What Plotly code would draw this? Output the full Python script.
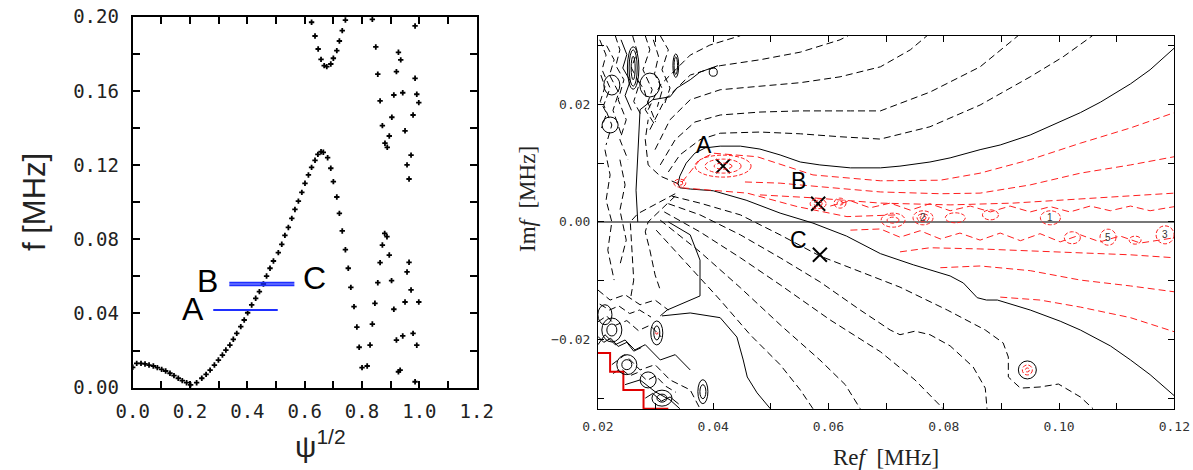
import plotly.graph_objects as go

# ================= LEFT PANEL DATA (psi^1/2 , f [MHz]) =================
psi_main = [0.000, 0.014, 0.029, 0.043, 0.057, 0.072, 0.086, 0.101, 0.115, 0.130, 0.144, 0.159, 0.173, 0.188, 0.202,
            0.223, 0.241, 0.256, 0.270, 0.285, 0.299, 0.313, 0.325, 0.339, 0.351, 0.363, 0.377, 0.389, 0.401, 0.415,
            0.429, 0.442, 0.456, 0.467, 0.479, 0.491, 0.508, 0.520, 0.531, 0.543, 0.555, 0.566, 0.578, 0.590, 0.601,
            0.613, 0.624, 0.636, 0.646, 0.657, 0.665, 0.680, 0.691, 0.700, 0.712, 0.721, 0.731, 0.742, 0.752, 0.761,
            0.772, 0.782, 0.790, 0.800]
f_main = [0.0110, 0.0131, 0.0131, 0.0128, 0.0122, 0.0117, 0.0108, 0.0099, 0.0090, 0.0078, 0.0065, 0.0051, 0.0038, 0.0027, 0.0015,
          0.0027, 0.0051, 0.0072, 0.0095, 0.0122, 0.0149, 0.0176, 0.0203, 0.0230, 0.0261, 0.0293, 0.0329, 0.0365, 0.0404, 0.0446,
          0.0482, 0.0518, 0.0559, 0.0602, 0.0644, 0.0683, 0.0728, 0.0773, 0.0821, 0.0864, 0.0913, 0.0961, 0.1006, 0.1053, 0.1102,
          0.1147, 0.1188, 0.1226, 0.1258, 0.1272, 0.1269, 0.1240, 0.1183, 0.1111, 0.1028, 0.0940, 0.0845, 0.0744, 0.0644, 0.0541,
          0.0437, 0.0327, 0.0218, 0.0108]
psi_upper = [0.624, 0.636, 0.647, 0.657, 0.668, 0.677, 0.691, 0.700, 0.712, 0.721, 0.731, 0.742]
f_upper = [0.1970, 0.1896, 0.1826, 0.1770, 0.1736, 0.1731, 0.1745, 0.1776, 0.1817, 0.1869, 0.1925, 0.1982]
psi_hi = [0.836, 0.848, 0.855, 0.863, 0.871, 0.880, 0.888, 0.895, 0.904, 0.911, 0.920, 0.927, 0.935, 0.942,
          0.950, 0.957, 0.964, 0.971, 0.978, 0.985, 0.991, 0.998, 0.985]
f_hi = [0.1986, 0.1837, 0.1690, 0.1546, 0.1413, 0.1318, 0.1296, 0.1357, 0.1458, 0.1578, 0.1704, 0.1808, 0.1767, 0.1590,
        0.1385, 0.1201, 0.1125, 0.1254, 0.1470, 0.1668, 0.1582, 0.1537, 0.1950]
psi_lo = [0.818, 0.828, 0.836, 0.845, 0.855, 0.863, 0.871, 0.879, 0.887, 0.895, 0.903, 0.911, 0.920, 0.927,
          0.933, 0.942, 0.950, 0.957, 0.964, 0.971, 0.978, 0.985, 0.991, 0.998]
f_lo = [0.0117, 0.0230, 0.0343, 0.0455, 0.0566, 0.0674, 0.0769, 0.0832, 0.0814, 0.0715, 0.0577, 0.0423, 0.0257, 0.0086,
        0.0095, 0.0279, 0.0462, 0.0624, 0.0676, 0.0527, 0.0293, 0.0032, 0.0229, 0.0462]

cut_names = ["A", "B", "C"]
cut_f = [0.0419, 0.0566, 0.0552]
cut_psi_start = [0.281, 0.337, 0.337]
cut_psi_end = [0.506, 0.564, 0.564]
cut_label_psi = [0.209, 0.260, 0.634]
cut_label_f = [0.0424, 0.0575, 0.0593]

# ================= RIGHT PANEL DATA (Re f , Im f) =================
mode_names = ["A", "B", "C"]
mode_re = [0.0417, 0.0582, 0.0585]
mode_im = [0.0095, 0.0031, -0.0056]
mode_label_re = [0.0384, 0.0548, 0.0548]
mode_label_im = [0.0131, 0.0069, -0.0031]

# zero contour (solid black)
s_main_x = [0.1200, 0.1158, 0.1124, 0.1072, 0.1037, 0.0985, 0.0950, 0.0898, 0.0863, 0.0811, 0.0776, 0.0724, 0.0690, 0.0638,
            0.0585, 0.0551, 0.0516, 0.0481, 0.0447, 0.0412, 0.0386, 0.0368, 0.0353, 0.0342, 0.0339, 0.0342, 0.0360, 0.0400,
            0.0457, 0.0516, 0.0573, 0.0631, 0.0690, 0.0747, 0.0811, 0.0834, 0.0846, 0.0858, 0.0874, 0.0893, 0.0950, 0.1002,
            0.1037, 0.1089, 0.1124, 0.1158, 0.1200]
s_main_y = [0.0296, 0.0259, 0.0235, 0.0204, 0.0186, 0.0163, 0.0148, 0.0131, 0.0123, 0.0109, 0.0102, 0.0095, 0.0092, 0.0092,
            0.0097, 0.0102, 0.0114, 0.0124, 0.0129, 0.0129, 0.0126, 0.0117, 0.0100, 0.0078, 0.0065, 0.0058, 0.0056, 0.0053,
            0.0037, 0.0015, -0.0002, -0.0024, -0.0054, -0.0073, -0.0092, -0.0104, -0.0117, -0.0129, -0.0133, -0.0133,
            -0.0150, -0.0169, -0.0184, -0.0211, -0.0235, -0.0260, -0.0296]
s2_x = [0.0408, 0.0377, 0.0360, 0.0337, 0.0325, 0.0295, 0.0273, 0.0269, 0.0266, 0.0269]
s2_y = [0.0266, 0.0255, 0.0242, 0.0228, 0.0213, 0.0208, 0.0191, 0.0123, 0.0054, 0.0000]
s3_x = [0.0322, 0.0360, 0.0377, 0.0377, 0.0320, 0.0308]
s3_y = [0.0000, -0.0022, -0.0065, -0.0126, -0.0150, -0.0160]
s4_x = [0.0311, 0.0360, 0.0412, 0.0441, 0.0452, 0.0459, 0.0476, 0.0499]
s4_y = [-0.0160, -0.0155, -0.0163, -0.0196, -0.0235, -0.0264, -0.0291, -0.0318]

# negative levels (black dashed) above the zero contour
l1_x = [0.0322, 0.0342, 0.0377, 0.0412, 0.0481, 0.0551, 0.0620, 0.0690, 0.0776, 0.0863, 0.0950, 0.1007, 0.1058]
l1_y = [0.0085, 0.0114, 0.0140, 0.0151, 0.0153, 0.0150, 0.0145, 0.0141, 0.0162, 0.0199, 0.0247, 0.0281, 0.0317]
l2_x = [0.0308, 0.0334, 0.0368, 0.0412, 0.0481, 0.0551, 0.0638, 0.0690, 0.0776, 0.0863, 0.0929]
l2_y = [0.0097, 0.0140, 0.0170, 0.0182, 0.0187, 0.0189, 0.0189, 0.0189, 0.0221, 0.0264, 0.0317]
l3_x = [0.0299, 0.0325, 0.0360, 0.0412, 0.0481, 0.0551, 0.0620, 0.0690, 0.0742, 0.0771]
l3_y = [0.0123, 0.0174, 0.0208, 0.0225, 0.0231, 0.0237, 0.0247, 0.0264, 0.0293, 0.0317]
l4_x = [0.0290, 0.0316, 0.0360, 0.0412, 0.0481, 0.0551, 0.0620, 0.0634]
l4_y = [0.0157, 0.0208, 0.0250, 0.0266, 0.0276, 0.0289, 0.0310, 0.0317]
l5_x = [0.0287, 0.0308, 0.0360, 0.0394, 0.0447]
l5_y = [0.0191, 0.0233, 0.0284, 0.0301, 0.0317]

# negative levels (black dashed) below the zero contour
d1_x = [0.0328, 0.0377, 0.0447, 0.0516, 0.0585, 0.0655, 0.0724, 0.0806, 0.0872, 0.0903, 0.0912, 0.0912, 0.0933, 0.0967,
        0.0999, 0.1037, 0.1059]
d1_y = [0.0044, 0.0032, 0.0012, -0.0022, -0.0058, -0.0085, -0.0111, -0.0150, -0.0184, -0.0206, -0.0230, -0.0264,
        -0.0283, -0.0281, -0.0276, -0.0298, -0.0318]
d2_x = [0.0322, 0.0377, 0.0447, 0.0516, 0.0585, 0.0655, 0.0707, 0.0724, 0.0750, 0.0776, 0.0811, 0.0851, 0.0872, 0.0875]
d2_y = [0.0031, 0.0012, -0.0022, -0.0061, -0.0102, -0.0150, -0.0184, -0.0192, -0.0186, -0.0192, -0.0211, -0.0247,
        -0.0283, -0.0318]
d3_x = [0.0315, 0.0377, 0.0447, 0.0516, 0.0603, 0.0690, 0.0750, 0.0799]
d3_y = [0.0017, -0.0017, -0.0061, -0.0107, -0.0167, -0.0221, -0.0269, -0.0318]
d4_x = [0.0308, 0.0377, 0.0447, 0.0516, 0.0585, 0.0629, 0.0655]
d4_y = [0.0003, -0.0051, -0.0112, -0.0175, -0.0235, -0.0277, -0.0318]
d5_x = [0.0301, 0.0360, 0.0412, 0.0464, 0.0516, 0.0551, 0.0573]
d5_y = [-0.0014, -0.0078, -0.0133, -0.0192, -0.0243, -0.0286, -0.0318]

# dashed lines in the left (irregular) region
f1_x = [0.0339, 0.0308, 0.0287, 0.0282, 0.0287]
f1_y = [0.0065, 0.0078, 0.0097, 0.0140, 0.0174]
v1_x = [0.0334, 0.0299, 0.0269, 0.0256, 0.0259, 0.0262, 0.0256]
v1_y = [0.0048, 0.0029, 0.0014, 0.0000, -0.0048, -0.0099, -0.0133]
v2_x = [0.0334, 0.0308, 0.0287, 0.0282, 0.0290, 0.0299, 0.0308]
v2_y = [0.0044, 0.0020, 0.0000, -0.0017, -0.0048, -0.0090, -0.0116]
g1_x = [0.0212, 0.0221, 0.0214, 0.0224, 0.0217, 0.0228]
g1_y = [0.0123, 0.0080, 0.0037, 0.0000, -0.0048, -0.0099]
g2_x = [0.0238, 0.0247, 0.0238, 0.0249, 0.0238]
g2_y = [0.0106, 0.0063, 0.0020, -0.0031, -0.0073]
q1_x = [0.0203, 0.0214, 0.0207, 0.0221, 0.0210, 0.0224, 0.0214]
q1_y = [0.0310, 0.0284, 0.0259, 0.0228, 0.0199, 0.0165, 0.0131]
q2_x = [0.0230, 0.0238, 0.0231, 0.0245, 0.0235, 0.0249, 0.0238, 0.0252]
q2_y = [0.0317, 0.0293, 0.0266, 0.0242, 0.0208, 0.0174, 0.0140, 0.0106]
q3_x = [0.0282, 0.0290, 0.0278, 0.0294, 0.0282, 0.0299]
q3_y = [0.0317, 0.0293, 0.0259, 0.0225, 0.0191, 0.0165]
q4_x = [0.0308, 0.0322, 0.0311, 0.0325, 0.0315]
q4_y = [0.0317, 0.0293, 0.0259, 0.0228, 0.0199]
q5_x = [0.0215, 0.0228, 0.0220, 0.0236, 0.0226, 0.0240]
q5_y = [0.0300, 0.0276, 0.0250, 0.0220, 0.0190, 0.0150]
q6_x = [0.0260, 0.0268, 0.0258, 0.0272, 0.0262, 0.0276]
q6_y = [0.0317, 0.0290, 0.0262, 0.0236, 0.0205, 0.0180]
q7_x = [0.0296, 0.0305, 0.0298, 0.0312, 0.0303]
q7_y = [0.0310, 0.0282, 0.0252, 0.0226, 0.0196]
q8_x = [0.0205, 0.0212, 0.0204, 0.0215, 0.0206]
q8_y = [0.0250, 0.0230, 0.0205, 0.0185, 0.0160]
q9_x = [0.0240, 0.0250, 0.0243, 0.0256, 0.0247, 0.0258]
q9_y = [0.0310, 0.0285, 0.0262, 0.0240, 0.0215, 0.0190]
q10_x = [0.0270, 0.0280, 0.0286, 0.0292, 0.0300]
q10_y = [0.0240, 0.0225, 0.0205, 0.0190, 0.0170]
t1_x = [0.0200, 0.0221, 0.0247, 0.0273, 0.0299, 0.0322]
t1_y = [-0.0116, -0.0133, -0.0124, -0.0141, -0.0133, -0.0150]
t2_x = [0.0200, 0.0212, 0.0230, 0.0247, 0.0264, 0.0282, 0.0308, 0.0334, 0.0360]
t2_y = [-0.0209, -0.0192, -0.0209, -0.0201, -0.0218, -0.0209, -0.0235, -0.0226, -0.0252]
t3_x = [0.0224, 0.0247, 0.0273, 0.0299, 0.0325, 0.0360, 0.0377]
t3_y = [-0.0243, -0.0226, -0.0252, -0.0243, -0.0269, -0.0286, -0.0318]
t4_x = [0.0247, 0.0273, 0.0299, 0.0325, 0.0342]
t4_y = [-0.0277, -0.0269, -0.0289, -0.0303, -0.0318]
t5_x = [0.0200, 0.0215, 0.0230, 0.0250, 0.0270, 0.0290, 0.0310]
t5_y = [-0.0170, -0.0160, -0.0176, -0.0168, -0.0185, -0.0176, -0.0196]
t6_x = [0.0203, 0.0220, 0.0236, 0.0255, 0.0272, 0.0292]
t6_y = [-0.0140, -0.0150, -0.0143, -0.0156, -0.0150, -0.0162]
t7_x = [0.0200, 0.0210, 0.0222, 0.0235, 0.0250, 0.0262, 0.0275]
t7_y = [-0.0195, -0.0205, -0.0198, -0.0212, -0.0205, -0.0220, -0.0214]
t8_x = [0.0226, 0.0240, 0.0255, 0.0270, 0.0285, 0.0300, 0.0318, 0.0335]
t8_y = [-0.0258, -0.0250, -0.0262, -0.0256, -0.0270, -0.0262, -0.0280, -0.0290]
t9_x = [0.0282, 0.0295, 0.0310, 0.0325, 0.0340]
t9_y = [-0.0300, -0.0292, -0.0305, -0.0298, -0.0310]

# positive levels (red dashed)
ra_x = [0.0346, 0.0377, 0.0400, 0.0476, 0.0573, 0.0690, 0.0794, 0.0863, 0.0950, 0.1037, 0.1124, 0.1200]
ra_y = [0.0068, 0.0106, 0.0117, 0.0111, 0.0080, 0.0070, 0.0071, 0.0083, 0.0106, 0.0134, 0.0160, 0.0186]
rb_x = [0.0455, 0.0516, 0.0573, 0.0690, 0.0794, 0.0863, 0.0950, 0.1037, 0.1124, 0.1200]
rb_y = [0.0068, 0.0066, 0.0061, 0.0051, 0.0048, 0.0049, 0.0063, 0.0083, 0.0097, 0.0111]
rc_x = [0.0481, 0.0573, 0.0690, 0.0811, 0.0920, 0.1037, 0.1124, 0.1200]
rc_y = [0.0046, 0.0041, 0.0032, 0.0029, 0.0032, 0.0039, 0.0044, 0.0049]
w1_x = [0.0603, 0.0638, 0.0672, 0.0707, 0.0742, 0.0776, 0.0811, 0.0846, 0.0881, 0.0915, 0.0950, 0.0985, 0.1019,
        0.1054, 0.1089, 0.1124, 0.1158, 0.1200]
w1_y = [0.0027, 0.0036, 0.0024, 0.0032, 0.0020, 0.0031, 0.0019, 0.0027, 0.0017, 0.0027, 0.0017, 0.0026, 0.0017,
        0.0027, 0.0019, 0.0027, 0.0019, 0.0026]
rl_x = [0.0346, 0.0459, 0.0546, 0.0603, 0.0632, 0.0719]
rl_y = [0.0058, 0.0049, 0.0026, 0.0014, 0.0009, 0.0012]
w2_x = [0.0638, 0.0690, 0.0724, 0.0759, 0.0794, 0.0828, 0.0863, 0.0898, 0.0933, 0.0967, 0.1002, 0.1037, 0.1071,
        0.1106, 0.1141, 0.1200]
w2_y = [-0.0014, -0.0012, -0.0026, -0.0015, -0.0029, -0.0019, -0.0031, -0.0019, -0.0032, -0.0020, -0.0034, -0.0022,
        -0.0034, -0.0024, -0.0036, -0.0027]
rb1_x = [0.0724, 0.0776, 0.0863, 0.0950, 0.1037, 0.1124, 0.1200]
rb1_y = [-0.0051, -0.0044, -0.0046, -0.0049, -0.0053, -0.0056, -0.0061]
rb2_x = [0.0794, 0.0863, 0.0950, 0.1037, 0.1124, 0.1200]
rb2_y = [-0.0078, -0.0075, -0.0083, -0.0099, -0.0109, -0.0119]
rb3_x = [0.0898, 0.0967, 0.1037, 0.1124, 0.1200]
rb3_y = [-0.0128, -0.0133, -0.0145, -0.0163, -0.0187]

# red boundary of the computed domain (staircase)
stair_x = [0.0200, 0.0221, 0.0221, 0.0244, 0.0244, 0.0279, 0.0279, 0.0322]
stair_y = [-0.0223, -0.0223, -0.0255, -0.0255, -0.0286, -0.0286, -0.0318, -0.0318]

# small closed contours: centre re, centre im, half-width, half-height
red_loop_re = [0.0417, 0.0417, 0.0417, 0.0582, 0.0582, 0.0620, 0.0620, 0.0712, 0.0712, 0.0764, 0.0764, 0.0764,
               0.0820, 0.0881, 0.0985, 0.1023, 0.1085, 0.1132, 0.1184, 0.0945, 0.0945, 0.0342, 0.0342, 0.0302]
red_loop_im = [0.0095, 0.0095, 0.0095, 0.0031, 0.0031, 0.0032, 0.0032, 0.0003, 0.0003, 0.0007, 0.0007, 0.0007,
               0.0007, 0.0012, 0.0007, -0.0027, -0.0026, -0.0031, -0.0022, -0.0252, -0.0252, 0.0066, 0.0066, -0.0189]
red_loop_rw = [0.00486, 0.00313, 0.00156, 0.00139, 0.00070, 0.00104, 0.00052, 0.00208, 0.00104, 0.00174, 0.00104,
               0.00052, 0.00174, 0.00139, 0.00174, 0.00139, 0.00139, 0.00104, 0.00156, 0.00087, 0.00035, 0.00104,
               0.00052, 0.00020]
red_loop_rh = [0.00187, 0.00119, 0.00051, 0.00085, 0.00050, 0.00085, 0.00034, 0.00119, 0.00051, 0.00119, 0.00068,
               0.00034, 0.00085, 0.00085, 0.00119, 0.00102, 0.00136, 0.00068, 0.00153, 0.00085, 0.00034, 0.00068,
               0.00034, 0.00020]
blk_loop_re = [0.0224, 0.0224, 0.0250, 0.0250, 0.0287, 0.0311, 0.0311, 0.0212, 0.0302, 0.0302, 0.0382, 0.0382,
               0.0945, 0.0261, 0.0261, 0.0335, 0.0224, 0.0290, 0.0221, 0.0400, 0.0261, 0.0335]
blk_loop_im = [-0.0184, -0.0184, -0.0243, -0.0243, -0.0269, -0.0300, -0.0300, -0.0158, -0.0189, -0.0189, -0.0289,
               -0.0289, -0.0252, 0.0262, 0.0262, 0.0266, 0.0233, 0.0233, 0.0165, 0.0255, 0.0262, 0.0266]
blk_loop_rw = [0.00174, 0.00087, 0.00174, 0.00087, 0.00139, 0.00174, 0.00087, 0.00122, 0.00104, 0.00052, 0.00087,
               0.00052, 0.00156, 0.00070, 0.00035, 0.00050, 0.00139, 0.00174, 0.00139, 0.00070, 0.00100, 0.00030]
blk_loop_rh = [0.00204, 0.00102, 0.00170, 0.00085, 0.00136, 0.00136, 0.00068, 0.00170, 0.00204, 0.00119, 0.00204,
               0.00119, 0.00153, 0.00310, 0.00200, 0.00200, 0.00170, 0.00204, 0.00136, 0.00070, 0.00360, 0.00150]

level_tags = ["2", "1", "5", "3"]
level_tag_re = [0.0764, 0.0985, 0.1085, 0.1184]
level_tag_im = [0.0007, 0.0007, -0.0026, -0.0022]

# ================= FIGURE =================
fig = go.Figure()
BLACK = "#000000"
RED = "#ff1f1f"
DASH = "7px,4px"

for xs, ys in [(psi_main, f_main), (psi_upper, f_upper), (psi_hi, f_hi), (psi_lo, f_lo)]:
    fig.add_trace(go.Scatter(x=xs, y=ys, mode="markers", xaxis="x", yaxis="y",
                             marker=dict(symbol="cross", size=4.5, color="black", line=dict(width=0)),
                             showlegend=False, hoverinfo="skip"))

for i in range(3):
    fig.add_trace(go.Scatter(x=[cut_psi_start[i], cut_psi_end[i]], y=[cut_f[i], cut_f[i]], mode="lines",
                             xaxis="x", yaxis="y", line=dict(color="#1f2fff", width=2),
                             showlegend=False, hoverinfo="skip"))
    fig.add_annotation(x=cut_label_psi[i], y=cut_label_f[i], xref="x", yref="y", text=cut_names[i],
                       xanchor="center", yanchor="middle",
                       showarrow=False, font=dict(family="Liberation Sans, Arial", size=32, color="black"))


def add_line(xs, ys, color, dash, width=1.0):
    fig.add_trace(go.Scatter(x=xs, y=ys, mode="lines", xaxis="x2", yaxis="y2",
                             line=dict(color=color, width=width, dash=dash),
                             showlegend=False, hoverinfo="skip"))


for xs, ys in [(l1_x, l1_y), (l2_x, l2_y), (l3_x, l3_y), (l4_x, l4_y), (l5_x, l5_y),
               (d1_x, d1_y), (d2_x, d2_y), (d3_x, d3_y), (d4_x, d4_y), (d5_x, d5_y),
               (f1_x, f1_y), (v1_x, v1_y), (v2_x, v2_y), (g1_x, g1_y), (g2_x, g2_y),
               (q1_x, q1_y), (q2_x, q2_y), (q3_x, q3_y), (q4_x, q4_y), (q5_x, q5_y), (q6_x, q6_y),
               (q7_x, q7_y), (q8_x, q8_y), (q10_x, q10_y), (t1_x, t1_y), (t3_x, t3_y), (t5_x, t5_y),
               (t6_x, t6_y), (t8_x, t8_y)]:
    add_line(xs, ys, BLACK, DASH)
for xs, ys in [(s_main_x, s_main_y), (s2_x, s2_y), (s3_x, s3_y), (s4_x, s4_y), (t2_x, t2_y), (t4_x, t4_y),
               (q9_x, q9_y), (t7_x, t7_y), (t9_x, t9_y)]:
    add_line(xs, ys, BLACK, "solid")
for xs, ys in [(ra_x, ra_y), (rb_x, rb_y), (rc_x, rc_y), (w1_x, w1_y), (rl_x, rl_y), (w2_x, w2_y),
               (rb1_x, rb1_y), (rb2_x, rb2_y), (rb3_x, rb3_y)]:
    add_line(xs, ys, RED, DASH)
add_line(stair_x, stair_y, "#e00000", "solid", 2)

shapes = []
for cx, cy, rw, rh in zip(red_loop_re, red_loop_im, red_loop_rw, red_loop_rh):
    shapes.append(dict(type="circle", xref="x2", yref="y2", x0=cx - rw, x1=cx + rw, y0=cy - rh, y1=cy + rh,
                       line=dict(color=RED, width=1, dash="4px,2px")))
for cx, cy, rw, rh in zip(blk_loop_re, blk_loop_im, blk_loop_rw, blk_loop_rh):
    shapes.append(dict(type="circle", xref="x2", yref="y2", x0=cx - rw, x1=cx + rw, y0=cy - rh, y1=cy + rh,
                       line=dict(color=BLACK, width=1)))
fig.update_layout(shapes=shapes)

fig.add_trace(go.Scatter(x=mode_re, y=mode_im, mode="markers", xaxis="x2", yaxis="y2",
                         marker=dict(symbol="x-thin-open", size=14, color="black", line=dict(width=2, color="black")),
                         showlegend=False, hoverinfo="skip"))
for i in range(3):
    fig.add_annotation(x=mode_label_re[i], y=mode_label_im[i], xref="x2", yref="y2", text=mode_names[i],
                       xanchor="center", yanchor="middle",
                       showarrow=False, font=dict(family="Liberation Sans, Arial", size=23, color="black"))
for i in range(4):
    fig.add_annotation(x=level_tag_re[i], y=level_tag_im[i], xref="x2", yref="y2", text=level_tags[i],
                       xanchor="center", yanchor="middle",
                       showarrow=False, font=dict(family="Liberation Sans, Arial", size=10, color="#333"))

# axis titles (paper coordinates = whole figure, margins are zero)
fig.add_annotation(x=34 / 1193, y=1 - 202 / 470, xref="paper", yref="paper", text="f [MHz]", textangle=-90,
                   xanchor="center", yanchor="middle",
                   showarrow=False, font=dict(family="Liberation Sans, Arial", size=31, color="#222"))
fig.add_annotation(x=293 / 1193, y=1 - 444 / 470, xref="paper", yref="paper", text="ψ<sup>1/2</sup>",
                   xanchor="left", yanchor="middle",
                   showarrow=False, font=dict(family="Liberation Sans, Arial", size=30, color="#222"))
fig.add_annotation(x=886 / 1193, y=1 - 457 / 470, xref="paper", yref="paper", text="Re<i>f</i>  [MHz]",
                   xanchor="center", yanchor="middle",
                   showarrow=False, font=dict(family="Liberation Serif, Times New Roman", size=23, color="#222"))
fig.add_annotation(x=527 / 1193, y=1 - 199 / 470, xref="paper", yref="paper", text="Im<i>f</i>  [MHz]",
                   textangle=-90, showarrow=False, xanchor="center", yanchor="middle",
                   font=dict(family="Liberation Serif, Times New Roman", size=23, color="#222"))

left_tick_font = dict(family="DejaVu Sans Mono", size=19, color="#222")
right_tick_font = dict(family="DejaVu Sans Mono", size=13, color="#333")

fig.update_layout(
    width=1193, height=470, margin=dict(l=0, r=0, t=0, b=0, autoexpand=False),
    paper_bgcolor="white", plot_bgcolor="white", showlegend=False,
    xaxis=dict(domain=[0.11123, 0.39958], range=[0, 1.2], dtick=0.2, tick0=0, tickformat=".1f",
               automargin=False,
               showgrid=False, zeroline=False, showline=True, linecolor="black", linewidth=2, mirror="ticks",
               ticks="inside", ticklen=7, tickwidth=1.5, tickcolor="black", tickfont=left_tick_font,
               ticklabelstandoff=6,
               minor=dict(dtick=0.1, ticks="inside", ticklen=7, tickwidth=1.5, tickcolor="black")),
    yaxis=dict(domain=[0.17511, 0.96447], range=[0, 0.2], dtick=0.04, tick0=0, tickformat=".2f",
               automargin=False,
               showgrid=False, zeroline=False, showline=True, linecolor="black", linewidth=2, mirror="ticks",
               ticks="inside", ticklen=7, tickwidth=1.5, tickcolor="black", tickfont=left_tick_font,
               ticklabelstandoff=8,
               minor=dict(dtick=0.02, ticks="inside", ticklen=7, tickwidth=1.5, tickcolor="black")),
    xaxis2=dict(domain=[0.50126, 0.98433], range=[0.02, 0.12], dtick=0.02, tick0=0.02, tickformat=".2f",
                anchor="y2", automargin=False, showgrid=False, zeroline=False, showline=True, linecolor="black",
                linewidth=1, mirror="ticks", ticks="inside", ticklen=6, tickwidth=1, tickcolor="black",
                tickfont=right_tick_font, ticklabelstandoff=5,
                minor=dict(dtick=0.01, ticks="inside", ticklen=6, tickwidth=1, tickcolor="black")),
    yaxis2=dict(domain=[0.12915, 0.92404], range=[-0.0319, 0.0317], dtick=0.02, tick0=0, tickformat=".2f",
                anchor="x2", automargin=False, showgrid=False, zeroline=True, zerolinecolor="#777",
                zerolinewidth=2, showline=True, linecolor="black", linewidth=1, mirror="ticks", ticks="inside",
                ticklen=6, tickwidth=1, tickcolor="black", tickfont=right_tick_font, ticklabelstandoff=4,
                minor=dict(dtick=0.01, ticks="inside", ticklen=6, tickwidth=1, tickcolor="black")),
)

fig.write_html("out.html", config={"displayModeBar": False},
               post_script="document.body.style.margin='0px';document.body.style.padding='0px';")
